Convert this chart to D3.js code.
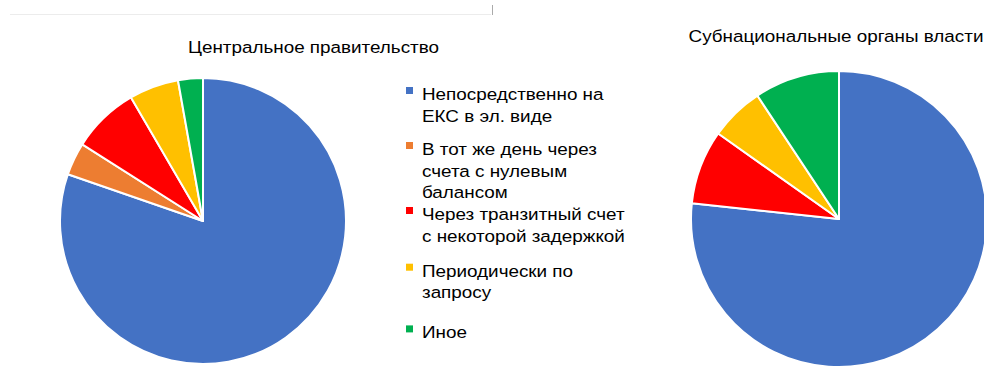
<!DOCTYPE html>
<html>
<head>
<meta charset="utf-8">
<script src="https://cdn.jsdelivr.net/npm/d3@7"></script>
<style>
  html, body { margin: 0; padding: 0; background: #fff; }
  svg { display: block; font-family: "Liberation Sans", Arial, sans-serif; }
</style>
</head>
<body>
<svg id="chart" width="984" height="378"></svg>
<script>
// Payment channel categories (legend order, clockwise from 12 o'clock)
const categories = [
  "Непосредственно на ЕКС в эл. виде",
  "В тот же день через счета с нулевым балансом",
  "Через транзитный счет с некоторой задержкой",
  "Периодически по запросу",
  "Иное"
];
// Legend text split into lines
const legendLines = [
  ["Непосредственно на", "ЕКС в эл. виде"],
  ["В тот же день через", "счета с нулевым", "балансом"],
  ["Через транзитный счет", "с некоторой задержкой"],
  ["Периодически по", "запросу"],
  ["Иное"]
];
const colors = ["#4472C4", "#ED7D31", "#FF0000", "#FFC000", "#00B050"];

// Shares, %
const centralValues = [80.3, 3.7, 7.6, 5.6, 2.8];
const subnationalValues = [76.7, 0, 8.1, 5.9, 9.3];

const titles = ["Центральное правительство", "Субнациональные органы власти"];

// Layout
const pies = [
  { values: centralValues, cx: 203, cy: 221, r: 143, title: titles[0], tx: 313.5, ty: 53 },
  { values: subnationalValues, cx: 839, cy: 219, r: 148, title: titles[1], tx: 836, ty: 42 }
];
const fontSize = 17, stretch = 1.11;
const legendX = 406, legendTextX = 422, lineStep = 21.7;
const legendBaselines = [100, 155, 220, 276.7, 338.4];

const svg = d3.select("#chart");

// faint frame remnants at the top
svg.append("line").attr("x1", 10).attr("x2", 491).attr("y1", 14.5).attr("y2", 14.5)
  .attr("stroke", "#ececec").attr("stroke-width", 1);
svg.append("line").attr("x1", 492.5).attr("x2", 492.5).attr("y1", 5).attr("y2", 15)
  .attr("stroke", "#aaaaaa").attr("stroke-width", 1);

const pie = d3.pie().sort(null).value(d => d.v);

pies.forEach(p => {
  const data = p.values.map((v, i) => ({ v, i }));
  const arcs = pie(data).filter(a => a.data.v > 0);
  const arc = d3.arc().innerRadius(0).outerRadius(p.r);
  const g = svg.append("g").attr("transform", `translate(${p.cx},${p.cy})`);
  g.selectAll("path").data(arcs).join("path")
    .attr("d", arc)
    .attr("fill", d => colors[d.data.i])
    .attr("stroke", "#fff")
    .attr("stroke-width", 2)
    .attr("stroke-linejoin", "round");

  svg.append("text")
    .attr("transform", `translate(${p.tx},${p.ty}) scale(${stretch},1)`)
    .attr("text-anchor", "middle")
    .attr("font-size", fontSize)
    .attr("fill", "#000")
    .text(p.title);
});

// Legend
const lg = svg.append("g");
categories.forEach((c, i) => {
  const base = legendBaselines[i];
  lg.append("rect")
    .attr("x", legendX).attr("y", base - 13)
    .attr("width", 7).attr("height", 7)
    .attr("fill", colors[i]);
  const t = lg.append("text")
    .attr("transform", `translate(${legendTextX},${base}) scale(${stretch},1)`)
    .attr("font-size", fontSize)
    .attr("fill", "#000");
  legendLines[i].forEach((line, k) => {
    t.append("tspan").attr("x", 0).attr("y", k * lineStep).text(line);
  });
});
</script>
</body>
</html>
